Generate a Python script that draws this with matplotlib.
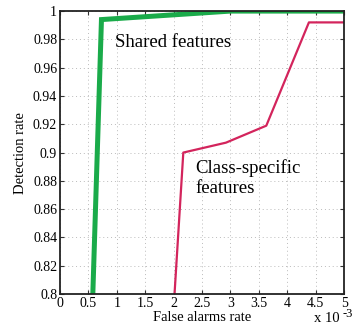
import matplotlib
matplotlib.use("Agg")
import matplotlib.pyplot as plt
import numpy as np

# false alarm rate (x 10^-3) and detection rate
shared_fa = [0.57, 0.73, 3.0, 5.0]
shared_det = [0.79, 0.994, 1.0, 1.0]
specific_fa = [2.0, 2.17, 2.92, 3.63, 4.38, 5.0]
specific_det = [0.79, 0.900, 0.907, 0.919, 0.992, 0.992]

x_ticks = np.arange(0, 5.01, 0.5)
x_labels = ["0", "0.5", "1", "1.5", "2", "2.5", "3", "3.5", "4", "4.5", "5"]
y_ticks = np.arange(0.8, 1.001, 0.02)
y_labels = ["0.8", "0.82", "0.84", "0.86", "0.88", "0.9", "0.92", "0.94", "0.96", "0.98", "1"]

plt.rcParams["font.family"] = ["Liberation Serif", "DejaVu Serif"]

fig = plt.figure(figsize=(3.57, 3.26), dpi=100)
ax = fig.add_axes([0.168, 0.098, 0.796, 0.868])

ax.plot(specific_fa, specific_det, color="#d3245c", linewidth=1.6, clip_on=True)
ax.plot(shared_fa, shared_det, color="#1aab4a", linewidth=3.6, clip_on=True,
        solid_joinstyle="miter")

ax.set_xlim(0, 5)
ax.set_ylim(0.8, 1.0)
ax.set_xticks(x_ticks)
ax.set_xticklabels(x_labels)
ax.set_yticks(y_ticks)
ax.set_yticklabels(y_labels)
ax.tick_params(direction="in", length=3, labelsize=10, pad=2,
               top=True, right=True, color="#333333")
ax.grid(True, linestyle=(0, (1, 3)), color="#bbbbbb", linewidth=0.7)
for s in ax.spines.values():
    s.set_linewidth(1.3)
    s.set_color("#222222")

ax.text(0.96, 0.978, "Shared features", fontsize=13.5, va="center", ha="left")
ax.text(2.38, 0.882, "Class-specific\nfeatures", fontsize=13.5, va="center",
        ha="left", linespacing=1.3)

ax.set_xlabel("False alarms rate", fontsize=10.5, labelpad=1)
ax.set_ylabel("Detection rate", fontsize=10.5, labelpad=4)
fig.text(0.88, 0.003, "x 10", fontsize=10.5, ha="left", va="bottom")
fig.text(0.96, 0.018, "-3", fontsize=9, ha="left", va="bottom")

fig.savefig("out.png", dpi=100)
